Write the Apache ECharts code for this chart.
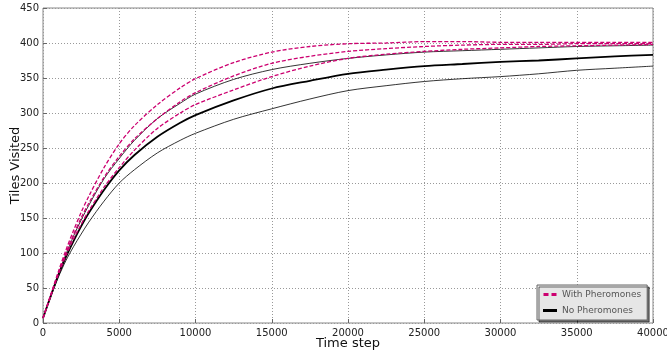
<!DOCTYPE html>
<html>
<head>
<meta charset="utf-8">
<script src="https://cdn.jsdelivr.net/npm/echarts@6/dist/echarts.min.js"></script>
<style>
  html, body { margin: 0; padding: 0; background: #fff; }
  #chart { width: 667px; height: 355px; }
</style>
</head>
<body>
<div id="chart"></div>
<script>
// time steps
const timeSteps = [0, 500, 1000, 1500, 2000, 2500, 3000, 4000, 5000, 6000, 7500, 9000, 10000,
  12500, 15000, 17500, 20000, 22500, 25000, 27500, 30000, 32500, 35000, 37500, 40000];

// with pheromones (magenta dashed): upper band, mean, lower band
const pherUpper = [7, 40, 73, 104, 132, 158, 181, 222, 256, 282, 312, 336, 349,
  372, 387, 395, 399, 400, 402, 402, 401, 401, 401, 401, 401];
const pherMean = [7, 39, 71, 100, 126, 150, 171, 208, 238, 263, 292, 316, 329,
  353, 371, 381, 388, 392, 395, 397, 398, 398, 399, 399, 399];
const pherLower = [7, 38, 69, 96, 120, 141, 160, 194, 222, 247, 278, 300, 312,
  333, 352, 367, 378, 384, 388, 391, 393, 395, 396, 397, 398];

// no pheromones (black solid): upper band, mean, lower band
const noUpper = [7, 39, 70, 98, 124, 147, 168, 206, 235, 261, 292, 314, 327,
  348, 362, 371, 378, 383, 387, 389, 391, 393, 395, 396, 397];
const noMean = [7, 38, 68, 94, 117, 138, 157, 190, 218, 240, 266, 286, 297,
  318, 335, 346, 356, 362, 367, 370, 373, 375, 378, 381, 383];
const noLower = [7, 37, 65, 89, 109, 127, 144, 174, 200, 219, 243, 261, 271,
  291, 306, 320, 332, 339, 345, 349, 352, 356, 361, 364, 367];

const MAGENTA = '#cc0070';
const FONT = 'DejaVu Sans';

const pairs = (ys) => timeSteps.map((x, i) => [x, ys[i]]);

function lineSeries(name, ys, color, width, dashed) {
  return {
    name,
    type: 'line',
    data: pairs(ys),
    showSymbol: false,
    symbol: 'none',
    smooth: 0.3,
    z: dashed ? 3 : 2,
    lineStyle: { color, width, type: dashed ? [4, 2] : 'solid' },
    itemStyle: { color },
    emphasis: { disabled: true },
  };
}

const chart = echarts.init(document.getElementById('chart'), null, { renderer: 'canvas' });

chart.setOption({
  animation: false,
  backgroundColor: '#fff',
  textStyle: { fontFamily: FONT },
  grid: {
    left: 43, right: 14, top: 8, bottom: 32,
    outerBoundsMode: 'none',
    containLabel: false,
    show: true, borderColor: '#888', borderWidth: 1,
  },
  legend: {
    data: [
      { name: 'With Pheromones', icon: 'path://M0,0H5V3H0Z M8,0H13V3H8Z' },
      { name: 'No Pheromones', icon: 'path://M0,0H14V3H0Z' },
    ],
    orient: 'vertical',
    left: 537, top: 285,
    padding: [5, 6, 5, 6],
    itemGap: 7,
    itemWidth: 14,
    itemHeight: 3,
    backgroundColor: '#e6e6e6',
    borderColor: '#666',
    borderWidth: 1,
    borderRadius: 0,
    shadowColor: 'rgba(0,0,0,0.55)',
    shadowOffsetX: 2,
    shadowOffsetY: 2,
    shadowBlur: 0,
    textStyle: { fontFamily: FONT, fontSize: 9, color: '#555' },
  },
  xAxis: {
    type: 'value',
    min: 0, max: 40000, interval: 5000,
    name: 'Time step',
    nameLocation: 'middle',
    nameGap: 14,
    nameMoveOverlap: false,
    nameTextStyle: { fontFamily: FONT, fontSize: 13, color: '#111', verticalAlign: 'top' },
    axisLine: { show: false },
    axisTick: { inside: true, length: 4, lineStyle: { color: '#666' } },
    axisLabel: { fontFamily: FONT, fontSize: 10, color: '#222', margin: 5, formatter: (v) => String(v) },
    splitLine: { show: true, lineStyle: { color: '#999', type: [1, 2], width: 1 } },
  },
  yAxis: {
    type: 'value',
    min: 0, max: 450, interval: 50,
    name: 'Tiles Visited',
    nameLocation: 'middle',
    nameGap: 21,
    nameMoveOverlap: false,
    nameRotate: 90,
    nameTextStyle: { fontFamily: FONT, fontSize: 13, color: '#111' },
    axisLine: { show: false },
    axisTick: { inside: true, length: 4, lineStyle: { color: '#666' } },
    axisLabel: { fontFamily: FONT, fontSize: 10, color: '#222', margin: 4, formatter: (v) => String(v) },
    splitLine: { show: true, lineStyle: { color: '#999', type: [1, 2], width: 1 } },
  },
  series: [
    lineSeries('noLower', noLower, '#000', 0.8, false),
    lineSeries('noUpper', noUpper, '#000', 0.8, false),
    lineSeries('No Pheromones', noMean, '#000', 1.8, false),
    lineSeries('pherLower', pherLower, MAGENTA, 1.3, true),
    lineSeries('pherUpper', pherUpper, MAGENTA, 1.3, true),
    lineSeries('With Pheromones', pherMean, MAGENTA, 1.3, true),
  ],
});
</script>
</body>
</html>
